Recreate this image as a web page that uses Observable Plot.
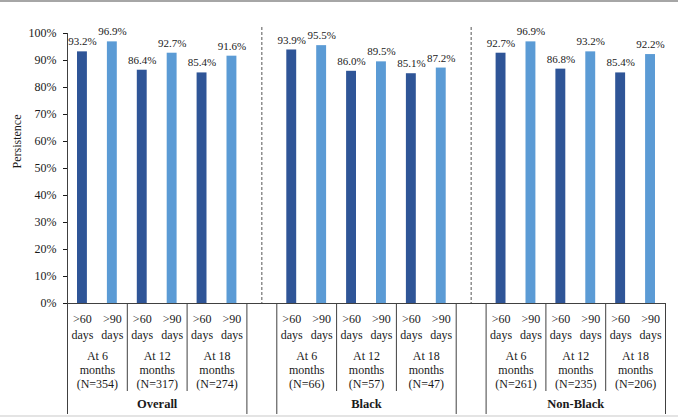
<!DOCTYPE html>
<html>
<head>
<meta charset="utf-8">
<script src="https://cdn.jsdelivr.net/npm/d3@7"></script>
<script src="https://cdn.jsdelivr.net/npm/@observablehq/plot@0.6"></script>
<style>
  html, body { margin: 0; padding: 0; background: #fff; }
  #wrap { position: relative; width: 678px; height: 417px; overflow: hidden; }
  #wrap svg { position: absolute; left: 0; top: 0; }
  .edge { position: absolute; left: 0; width: 678px; }
</style>
</head>
<body>
<div id="wrap">
  <div class="edge" style="top:0;height:2px;background:#a6a6a6"></div>
  <div class="edge" style="top:415px;height:2px;background:#e4e4e4"></div>
</div>
<script>
// ---- data ----
const groups = ["Overall", "Black", "Non-Black"];
const periods = ["At 6", "At 12", "At 18"];
const thresholds = [">60\ndays", ">90\ndays"];

const nOverall  = [354, 317, 274];
const nBlack    = [66, 57, 47];
const nNonBlack = [261, 235, 206];

const overall60  = [93.2, 86.4, 85.4];
const overall90  = [96.9, 92.7, 91.6];
const black60    = [93.9, 86.0, 85.1];
const black90    = [95.5, 89.5, 87.2];
const nonBlack60 = [92.7, 86.8, 85.4];
const nonBlack90 = [96.9, 93.2, 92.2];

const yTicks = [0, 10, 20, 30, 40, 50, 60, 70, 80, 90, 100];

// ---- build tables ----
const valueBy = { "Overall": [overall60, overall90], "Black": [black60, black90], "Non-Black": [nonBlack60, nonBlack90] };
const nBy = { "Overall": nOverall, "Black": nBlack, "Non-Black": nNonBlack };

const perGroup = periods.length * thresholds.length;   // bar slots per group
const stride = perGroup + 1;                            // plus one empty gap slot
const totalSlots = groups.length * stride - 1;

const bars = [];
const periodRows = [];
const groupRows = [];
const groupEdges = [];
const periodEdges = [];
const gapLines = [];
groups.forEach((g, gi) => {
  const start = gi * stride;
  groupRows.push({ group: g, x: start + perGroup / 2 });
  groupEdges.push(start, start + perGroup);
  if (gi < groups.length - 1) gapLines.push(start + perGroup + 0.5);
  periods.forEach((p, pi) => {
    const pstart = start + pi * thresholds.length;
    periodRows.push({ x: pstart + thresholds.length / 2, label: `${p}\nmonths\n(N=${nBy[g][pi]})` });
    if (pi > 0) periodEdges.push(pstart);
    thresholds.forEach((t, ti) => {
      bars.push({ group: g, period: p, threshold: t, slot: pstart + ti, value: valueBy[g][ti][pi] });
    });
  });
});

const W = 678, H = 417;
const mTop = 33, mBottom = 114, mLeft = 67, mRight = 13;
const frameH = H - mTop - mBottom;
const lineColor = "#404040";

const chart = Plot.plot({
  width: W,
  height: H,
  marginTop: mTop,
  marginBottom: mBottom,
  marginLeft: mLeft,
  marginRight: mRight,
  style: { fontFamily: "'Liberation Serif', 'Times New Roman', serif", fontSize: "12px", color: "#1a1a1a", background: "transparent" },
  x: { type: "linear", domain: [0, totalSlots], axis: null },
  y: { domain: [0, 100], ticks: yTicks, tickFormat: d => d + "%", tickSize: 4, tickPadding: 7, label: null, line: false },
  color: { domain: thresholds, range: ["#2F5597", "#5B9BD5"] },
  marks: [
    Plot.rectY(bars, { x1: "slot", x2: d => d.slot + 1, y: "value", fill: "threshold", insetLeft: 10, insetRight: 10 }),
    Plot.text(bars, { x: d => d.slot + 0.5, y: "value", text: d => d.value.toFixed(1) + "%", dy: -10, fontSize: 11, lineAnchor: "middle" }),
    Plot.ruleX([0], { y1: 0, y2: 100, stroke: lineColor }),
    Plot.ruleY([0], { stroke: lineColor }),
    Plot.ruleX(gapLines, { stroke: "#555", strokeDasharray: "3,2", insetTop: -6 }),
    Plot.ruleX(groupEdges, { stroke: lineColor, insetTop: frameH, insetBottom: -111 }),
    Plot.ruleX(periodEdges, { stroke: lineColor, insetTop: frameH, insetBottom: -88 }),
    Plot.text(bars, { x: d => d.slot + 0.5, frameAnchor: "bottom", text: "threshold", dy: 22, lineHeight: 1.33, fontSize: 12, lineAnchor: "middle" }),
    Plot.text(periodRows, { x: "x", frameAnchor: "bottom", text: "label", dy: 66, lineHeight: 1.17, fontSize: 12, lineAnchor: "middle" }),
    Plot.text(groupRows, { x: "x", frameAnchor: "bottom", text: "group", dy: 100, fontSize: 12.5, fontWeight: "bold", lineAnchor: "middle" }),
    Plot.text(["Persistence"], { frameAnchor: "left", rotate: -90, dx: -50, fontSize: 12 })
  ]
});

document.getElementById("wrap").appendChild(chart);
</script>
</body>
</html>
